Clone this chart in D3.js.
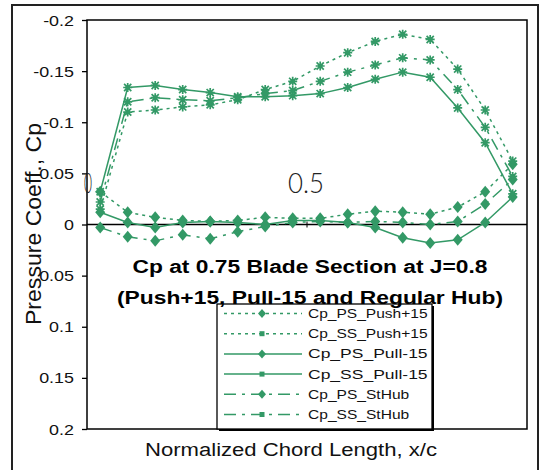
<!DOCTYPE html>
<html><head><meta charset="utf-8">
<script src="https://cdn.jsdelivr.net/npm/d3@7"></script>
<style>body{margin:0;background:#fff}svg{display:block}</style>
</head><body><svg id="c" width="541" height="470"></svg>
<script>
// ---- data ----
const xc = [0.03, 0.0925, 0.155, 0.2175, 0.28, 0.3425, 0.405, 0.4675, 0.53, 0.5925, 0.655, 0.7175, 0.78, 0.8425, 0.905, 0.9675];
const psPush = [-0.032, -0.012, -0.007, -0.004, -0.003, -0.004, -0.007, -0.006, -0.006, -0.010, -0.013, -0.012, -0.010, -0.017, -0.032, -0.059];
const ssPush = [-0.015, -0.110, -0.112, -0.115, -0.117, -0.122, -0.132, -0.140, -0.155, -0.168, -0.179, -0.186, -0.181, -0.152, -0.112, -0.062];
const psPull = [-0.012, -0.002, 0.003, -0.002, -0.003, -0.002, 0.000, -0.004, -0.004, -0.002, 0.003, 0.013, 0.018, 0.015, -0.002, -0.027];
const ssPull = [-0.032, -0.134, -0.136, -0.132, -0.129, -0.125, -0.125, -0.126, -0.128, -0.134, -0.142, -0.149, -0.144, -0.114, -0.080, -0.030];
const psHub = [0.003, 0.012, 0.016, 0.010, 0.014, 0.007, 0.002, -0.002, -0.003, -0.002, -0.003, -0.002, 0.000, -0.003, -0.020, -0.044];
const ssHub = [-0.022, -0.120, -0.124, -0.122, -0.121, -0.124, -0.128, -0.131, -0.140, -0.149, -0.156, -0.163, -0.161, -0.132, -0.095, -0.047];
const seriesNames = ["Cp_PS_Push+15", "Cp_SS_Push+15", "Cp_PS_Pull-15", "Cp_SS_Pull-15", "Cp_PS_StHub", "Cp_SS_StHub"];
const yTicks = [-0.2, -0.15, -0.1, -0.05, 0, 0.05, 0.1, 0.15, 0.2];
const yTickLabels = ["-0.2", "-0.15", "-0.1", "-0.05", "0", "0.05", "0.1", "0.15", "0.2"];
const xTicks = [0, 0.5];
const xTickLabels = ["0", "0.5"];
const titleLines = ["Cp at 0.75 Blade Section at J=0.8", "(Push+15, Pull-15 and Regular Hub)"];

// ---- setup ----
const GREEN = "#339966";
const FONT = "Liberation Sans, Arial, sans-serif";
const svg = d3.select("#c");
svg.append("rect").attr("width", 541).attr("height", 470).attr("fill", "#fff");

const x = d3.scaleLinear().domain([0, 1]).range([87, 527]);
const y = d3.scaleLinear().domain([-0.2, 0.2]).range([20, 429]);

const values = [psPush, ssPush, psPull, ssPull, psHub, ssHub];
const dashes = ["3,4", "3,4", null, null, "12,6,3,6", "12,6,3,6"];
const kinds = ["dia", "ast", "dia", "ast", "dia", "ast"];

// outer frame
svg.append("rect").attr("x", 12).attr("y", 5).attr("width", 526).attr("height", 470)
  .attr("fill", "none").attr("stroke", "#222").attr("stroke-width", 2);

// plot area
svg.append("rect").attr("x", x(0)).attr("y", y(-0.2)).attr("width", x(1) - x(0)).attr("height", y(0.2) - y(-0.2))
  .attr("fill", "#fff").attr("stroke", "#000").attr("stroke-width", 1.5);

// y axis
const ya = svg.append("g").attr("transform", `translate(${x(0)},0)`)
  .call(d3.axisLeft(y).tickValues(yTicks).tickSize(5).tickFormat((d, i) => yTickLabels[i]));
ya.select(".domain").remove();
ya.selectAll(".tick line").attr("stroke", "#000").attr("stroke-width", 1.3);
ya.selectAll(".tick text").attr("x", 0).attr("dy", "0.36em")
  .attr("transform", "translate(-13,0) scale(1.28,1)")
  .attr("font-family", FONT).attr("font-size", 14).attr("fill", "#111");

// x axis line at Cp=0
svg.append("line").attr("x1", x(0)).attr("x2", x(1)).attr("y1", y(0)).attr("y2", y(0))
  .attr("stroke", "#000").attr("stroke-width", 1.6);
svg.append("line").attr("x1", x(0.5)).attr("x2", x(0.5)).attr("y1", y(0) - 3).attr("y2", y(0) + 3)
  .attr("stroke", "#000").attr("stroke-width", 1);

// x tick labels (placed above the axis line, as in the reference)
svg.selectAll("text.xl").data(xTicks).enter().append("text").attr("class", "xl")
  .attr("x", d => x(d) + (d === 0 ? 1 : -1)).attr("y", y(0) - 32)
  .attr("text-anchor", "middle").attr("font-family", "Lato, DejaVu Sans, sans-serif")
  .attr("font-weight", 300).attr("font-size", 27).attr("fill", "#222")
  .attr("textLength", (d, i) => i === 0 ? 8 : 36).attr("lengthAdjust", "spacingAndGlyphs")
  .text((d, i) => xTickLabels[i]);

// markers
function marker(g, kind) {
  if (kind === "dia") {
    g.append("path").attr("d", "M0,-6L5,0L0,6L-5,0Z").attr("fill", GREEN);
  } else {
    g.append("path").attr("d", "M-4.5,0H4.5M0,-4.5V4.5M-3.6,-3.6L3.6,3.6M-3.6,3.6L3.6,-3.6")
      .attr("stroke", GREEN).attr("stroke-width", 1.7).attr("fill", "none");
    g.append("rect").attr("x", -2).attr("y", -2).attr("width", 4).attr("height", 4).attr("fill", GREEN);
  }
}

const line = d3.line().x(d => x(d[0])).y(d => y(d[1]));
values.forEach((vals, si) => {
  const pts = xc.map((xv, i) => [xv, vals[i]]);
  svg.append("path").attr("d", line(pts)).attr("fill", "none").attr("stroke", GREEN)
    .attr("stroke-width", 1.5).attr("stroke-dasharray", dashes[si]);
});
values.forEach((vals, si) => {
  xc.forEach((xv, i) => {
    const g = svg.append("g").attr("transform", `translate(${x(xv)},${y(vals[i])})`);
    marker(g, kinds[si]);
  });
});

// legend
const lg = svg.append("g");
const LX = 217, LY = 304, LW = 215, LH = 125;
lg.append("rect").attr("x", LX + 2).attr("y", LY + 2).attr("width", LW).attr("height", LH).attr("fill", "#000");
lg.append("rect").attr("x", LX).attr("y", LY).attr("width", LW).attr("height", LH)
  .attr("fill", "#fff").attr("stroke", "#000").attr("stroke-width", 1.3);
seriesNames.forEach((name, i) => {
  const ry = LY + 9.5 + i * 20.2;
  lg.append("line").attr("x1", 224).attr("x2", 302).attr("y1", ry).attr("y2", ry)
    .attr("stroke", GREEN).attr("stroke-width", 1.5).attr("stroke-dasharray", dashes[i]);
  const g = lg.append("g").attr("transform", `translate(262,${ry})`);
  if (kinds[i] === "dia") g.append("path").attr("d", "M0,-4.5L4,0L0,4.5L-4,0Z").attr("fill", GREEN);
  else g.append("rect").attr("x", -2.5).attr("y", -2.5).attr("width", 5).attr("height", 5).attr("fill", GREEN);
  lg.append("text").attr("x", 308).attr("y", ry + 4.5).attr("font-family", FONT).attr("font-size", 12.5)
    .attr("fill", "#111").attr("textLength", name.length * 9.2).attr("lengthAdjust", "spacingAndGlyphs").text(name);
});

// title
svg.append("text").attr("x", 310).attr("y", 273).attr("text-anchor", "middle")
  .attr("font-family", FONT).attr("font-weight", "bold").attr("font-size", 18).attr("fill", "#000")
  .attr("textLength", 355).attr("lengthAdjust", "spacingAndGlyphs").text(titleLines[0]);
svg.append("text").attr("x", 310).attr("y", 304).attr("text-anchor", "middle")
  .attr("font-family", FONT).attr("font-weight", "bold").attr("font-size", 18).attr("fill", "#000")
  .attr("textLength", 386).attr("lengthAdjust", "spacingAndGlyphs").text(titleLines[1]);

// axis titles
svg.append("text").attr("x", 291).attr("y", 456).attr("text-anchor", "middle")
  .attr("font-family", FONT).attr("font-size", 18).attr("fill", "#111")
  .attr("textLength", 292).attr("lengthAdjust", "spacingAndGlyphs").text("Normalized Chord Length, x/c");
svg.append("text").attr("transform", "translate(41,224) rotate(-90)").attr("text-anchor", "middle")
  .attr("font-family", FONT).attr("font-size", 22).attr("fill", "#111")
  .attr("textLength", 202).attr("lengthAdjust", "spacingAndGlyphs").text("Pressure Coeff., Cp");
</script></body></html>
